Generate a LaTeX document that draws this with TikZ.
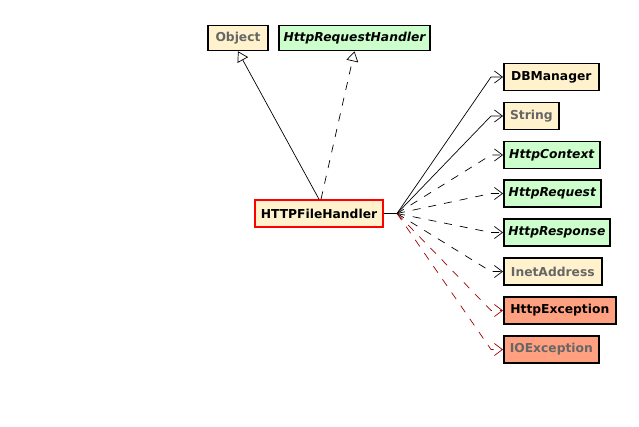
\documentclass[tikz,border=0pt]{standalone}
\usepackage{fontspec}
\setmainfont{DejaVu Sans}
\usetikzlibrary{arrows.meta}
\definecolor{beige}{RGB}{255,242,204}
\definecolor{mint}{RGB}{204,255,204}
\definecolor{salmon}{RGB}{255,160,128}
\definecolor{libgray}{RGB}{102,102,102}
\definecolor{darkred}{RGB}{160,0,0}
\begin{document}
\begin{tikzpicture}[x=1pt,y=-1pt,
  cls/.style={draw=black,line width=1.6pt,minimum height=27pt,inner sep=0pt,
    font=\fontsize{12.3}{14}\selectfont\bfseries},
  clsw/.style={cls,anchor=west},
  lib/.style={text=libgray},
  ifc/.style={font=\fontsize{12.3}{14}\selectfont\bfseries\itshape},
  gen/.style={line width=0.7pt,-{Triangle[open,length=10pt,width=12pt]}},
  dep/.style={line width=0.7pt,-{Straight Barb[length=8pt,width=12pt,line width=0.7pt]}},
  dsh/.style={dash pattern=on 8pt off 8pt},
  exc/.style={draw=darkred,color=darkred}
]
\useasboundingbox (0,0) rectangle (639,426);
\node[cls,fill=beige,lib,minimum width=60pt,minimum height=25pt] (object) at (238,38) {Object};
\node[cls,fill=mint,ifc,minimum width=151pt,minimum height=25pt] (hrh) at (354.5,38) {HttpRequestHandler};
\node[cls,draw=red,fill=beige,minimum width=128pt] (main) at (319,213.5) {HTTPFileHandler};

\node[clsw,fill=beige,minimum width=95pt] (dbm) at (503,77) {DBManager};
\node[clsw,fill=beige,lib,minimum width=55pt] (str) at (503,116) {String};
\node[clsw,fill=mint,ifc,minimum width=96pt] (ctx) at (503,155) {HttpContext};
\node[clsw,fill=mint,ifc,minimum width=97pt] (req) at (503,193.5) {HttpRequest};
\node[clsw,fill=mint,ifc,minimum width=106pt] (resp) at (503,232.5) {HttpResponse};
\node[clsw,fill=beige,lib,minimum width=98pt] (inet) at (503,271.5) {InetAddress};
\node[clsw,fill=salmon,minimum width=112pt] (hexc) at (503,310.5) {HttpException};
\node[clsw,fill=salmon,lib,minimum width=95pt] (ioexc) at (503,349.5) {IOException};

\coordinate (hub) at (397,213.5);
\draw[line width=0.7pt] (main.east) -- (hub);

\draw[gen] ([xshift=0pt]main.north) -- (object.south);
\draw[gen,dsh] ([xshift=2pt]main.north) -- (hrh.south);

\draw[dep] (hub) -- (491,77) -- (dbm.west);
\draw[dep] (hub) -- (491,116) -- (str.west);
\draw[dep,dsh] (hub) -- (491,155) -- (ctx.west);
\draw[dep,dsh] (hub) -- (491,193.5) -- (req.west);
\draw[dep,dsh] (hub) -- (491,232.5) -- (resp.west);
\draw[dep,dsh] (hub) -- (491,271.5) -- (inet.west);
\draw[dep,dsh,exc] (hub) -- (491,310.5) -- (hexc.west);
\draw[dep,dsh,exc] (hub) -- (491,349.5) -- (ioexc.west);
\end{tikzpicture}
\end{document}
